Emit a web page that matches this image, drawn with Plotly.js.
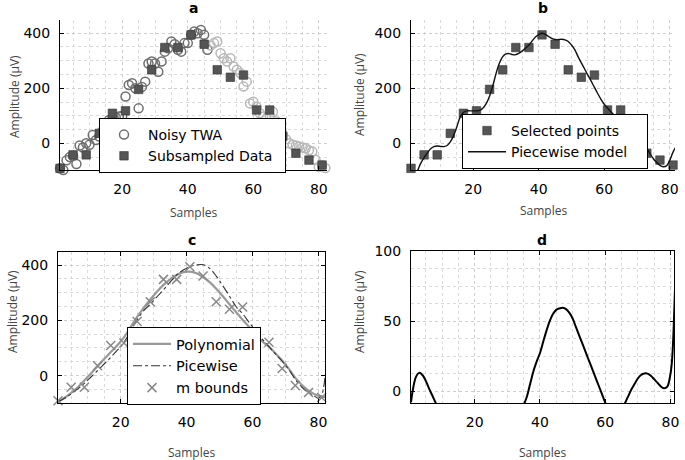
<!DOCTYPE html>
<html><head><meta charset="utf-8">
<script src="https://cdn.plot.ly/plotly-3.0.1.min.js"></script>
<style>html,body{margin:0;padding:0;background:#fff}#chart{width:685px;height:460px}</style>
</head><body><div id="chart"></div>
<script>
// ---- Panel a: noisy TWA (samples 1..82) ----
const noisyY = [-91,-97,-62,-50,-45,-75,-8,-15,0,-5,30,12,25,45,73,85,91,95,97,100,
  170,212,218,200,127,205,224,290,297,290,260,297,333,345,370,360,340,333,364,364,
  394,406,400,412,394,340,355,364,370,327,309,297,309,279,267,255,206,224,145,151,
  133,109,97,90,100,115,80,50,30,15,0,-5,-8,-12,-15,-18,-25,-30,-60,-85,-80,-90];
// ---- Subsampled / selected points ----
const subX = [1,5,9,13,17,21,25,29,33,37,41,45,49,53,57,61,65,69,73,77,81];
const subY = [-91,-42,-42,36,109,118,196,267,348,348,394,360,267,240,248,121,121,26,-36,-61,-79];
// ---- Panel b: piecewise model (samples 1..82) ----
const pieceY = [-150,-125,-100,-72,-52,-35,-20,-12,-10,-11,-12,-8,5,28,60,95,112,118,118,118,
  118,120,128,145,172,210,255,292,315,325,326,322,322,328,336,346,357,372,386,395,
  400,396,388,381,377,377,378,376,370,357,340,315,292,270,248,226,203,181,160,142,
  128,115,103,95,88,80,70,58,45,30,14,0,-18,-38,-56,-70,-80,-85,-82,-62,-32,-10];
// ---- Panel c: polynomial and picewise fits ----
const fitX = [1,3,5,7,9,11,13,15,17,19,21,23,25,27,29,31,33,35,37,39,41,43,45,47,49,51,53,55,57,59,61,63,65,67,69,71,73,75,77,79,81,82];
const polyY = [-95,-80,-62,-42,-18,8,34,60,85,110,138,175,212,245,275,303,328,348,364,374,376,370,356,338,314,287,258,230,202,176,150,124,105,80,55,25,-8,-34,-54,-68,-76,-78];
const picX = [1,3,5,7,9,11,13,15,17,19,21,23,25,27,29,31,33,35,37,39,41,43,45,47,49,51,53,55,57,59,61,63,65,67,69,71,73,75,77,79,80,81,82];
const picY = [-95,-82,-66,-48,-28,-5,18,42,66,92,120,160,202,235,258,285,310,338,364,382,394,400,401,388,360,325,288,250,224,192,162,132,105,78,52,22,-14,-42,-62,-76,-82,-70,-5];
// ---- Panel d: difference ----
const diffX = [0.5,1,2,3,4,5,6,7,8,9,10,15,20,25,30,34,35,36,37,38,39,40,41,42,43,44,45,46,47,48,49,50,51,52,53,54,55,56,57,58,59,60,61,63,65,66,67,68,69,70,71,72,73,74,75,76,77,78,79,80,80.5,81,81.5,82];
const diffY = [-8,0,10,13,11.5,7.5,2,-3,-8,-13,-20,-35,-40,-35,-25,-14,-10,-4,5,14,21,27,35,43,50,55,58,59,59.5,58.5,56,52,46,40,34,28,22,16,10,4,-2,-8,-13,-20,-14,-9,-4,1,5,9,11.5,12.6,12.5,11,8.5,6,3.5,2,3,12,22,45,80,120];

const noisyX = noisyY.map((v,i)=>i+1);
const pieceX = pieceY.map((v,i)=>i+1);
const circleCols = noisyX.map(x => x <= 46 ? '#6e6e6e' : '#b8b8b8');

const W=685, H=460;
const px = x => x / W, py = y => 1 - y / H;
const FAM = 'DejaVu Sans, Liberation Sans, sans-serif';
const TF = {family:FAM, size:14, color:'#000'};
const SP = '\u2002';

function axis(dom, range, dtick, minor, anchor, box, standoff){
  return {domain:dom, range:range, tick0:0, dtick:dtick, anchor:anchor,
    showgrid:true, gridcolor:'#cdcdcd', griddash:'dot', gridwidth:1,
    minor:{dtick:minor, tick0:0, showgrid:true, gridcolor:'#dadada', griddash:'dot', gridwidth:1},
    zeroline:false, showline:true, linecolor:'#000', linewidth:1,
    mirror: box ? 'ticks' : false, ticks:'inside', ticklen:4, tickcolor:'#000', tickwidth:1,
    tickfont:TF, ticklabelstandoff:standoff, fixedrange:true};
}

const traces = [
  {x:noisyX, y:noisyY, mode:'markers', name:'Noisy TWA' + SP + SP, xaxis:'x', yaxis:'y', legend:'legend', cliponaxis:false,
   marker:{symbol:'circle-open', size:9, color:circleCols, line:{width:1.5, color:circleCols}}},
  {x:subX, y:subY, mode:'markers', name:'Subsampled Data' + SP, xaxis:'x', yaxis:'y', legend:'legend', cliponaxis:false,
   marker:{symbol:'square', size:8.5, color:'#555', line:{width:0.6, color:'#333'}}},
  {x:subX, y:subY, mode:'markers', name:'Selected points', xaxis:'x2', yaxis:'y2', legend:'legend2', cliponaxis:false,
   marker:{symbol:'square', size:8.5, color:'#555', line:{width:0.6, color:'#333'}}},
  {x:pieceX, y:pieceY, mode:'lines', name:'Piecewise model' + SP + SP, xaxis:'x2', yaxis:'y2', legend:'legend2',
   line:{color:'#111', width:1.4, shape:'spline'}},
  {x:fitX, y:polyY, mode:'lines', name:'Polynomial', xaxis:'x3', yaxis:'y3', legend:'legend3',
   line:{color:'#999', width:2.2, shape:'spline'}},
  {x:picX, y:picY, mode:'lines', name:'Picewise', xaxis:'x3', yaxis:'y3', legend:'legend3',
   line:{color:'#333', width:1.1, dash:'dashdot', shape:'spline'}},
  {x:subX, y:subY, mode:'markers', name:'m bounds', xaxis:'x3', yaxis:'y3', legend:'legend3', cliponaxis:false,
   marker:{symbol:'x-thin-open', size:9, color:'#888', line:{width:1.5, color:'#888'}}},
  {x:diffX, y:diffY, mode:'lines', name:'difference', xaxis:'x4', yaxis:'y4', showlegend:false,
   line:{color:'#000', width:2, shape:'spline'}}
];

function leg(x, y, size){
  return {x:px(x), y:py(y), xanchor:'left', yanchor:'top', bgcolor:'#fff', bordercolor:'#000', borderwidth:1,
    font:{family:FAM, size:size, color:'#000'}, itemwidth:38, tracegroupgap:0};
}

const TT = {family:FAM, size:14, color:'#000', weight:'bold'};
const AF = {family:'Open Sans, sans-serif', size:12, color:'#444'};
function ann(text, x, y, font, angle){
  return {text:text, x:px(x), y:py(y), xref:'paper', yref:'paper', showarrow:false,
    xanchor:'center', yanchor:'middle', font:font, textangle:angle||0};
}

const layout = {
  width:W, height:H, margin:{l:0,r:0,t:0,b:0}, paper_bgcolor:'#fff', plot_bgcolor:'#fff',
  showlegend:true,
  xaxis: axis([px(60),px(327)], [1,82.5], 20, 5, 'y', false, 6),
  yaxis: axis([py(170),py(20)], [-97,448], 200, 50, 'x', false, 6),
  xaxis2: axis([px(411),px(675)], [1,81.6], 20, 5, 'y2', false, 6),
  yaxis2: axis([py(170),py(20)], [-97,448], 200, 50, 'x2', false, 6),
  xaxis3: axis([px(58),px(325)], [1,82], 20, 5, 'y3', true, 6),
  yaxis3: axis([py(403),py(252)], [-99,447], 200, 50, 'x3', true, 6),
  xaxis4: axis([px(411),px(674)], [0.5,81.1], 20, 5, 'y4', true, 6),
  yaxis4: axis([py(403),py(251)], [-8.5,100], 50, 12.5, 'x4', true, 6),
  legend: leg(99,118,14),
  legend2: leg(462,114,14),
  legend3: leg(127,327,14.5),
  annotations:[
    ann('a', 193.5, 8, TT), ann('b', 543, 8, TT), ann('c', 191.5, 240, TT), ann('d', 542, 240, TT),
    ann('Samples', 193.5, 212, AF), ann('Samples', 543, 210, AF), ann('Samples', 191.5, 452, AF), ann('Samples', 542, 452, AF),
    ann('Amplitude (µV)', 14, 97, AF, -90), ann('Amplitude (µV)', 359, 95, AF, -90),
    ann('Amplitude (µV)', 12, 312, AF, -90), ann('Amplitude (µV)', 359, 312, AF, -90)
  ]
};

Plotly.newPlot('chart', traces, layout, {staticPlot:true, displayModeBar:false});
</script>
</body></html>
